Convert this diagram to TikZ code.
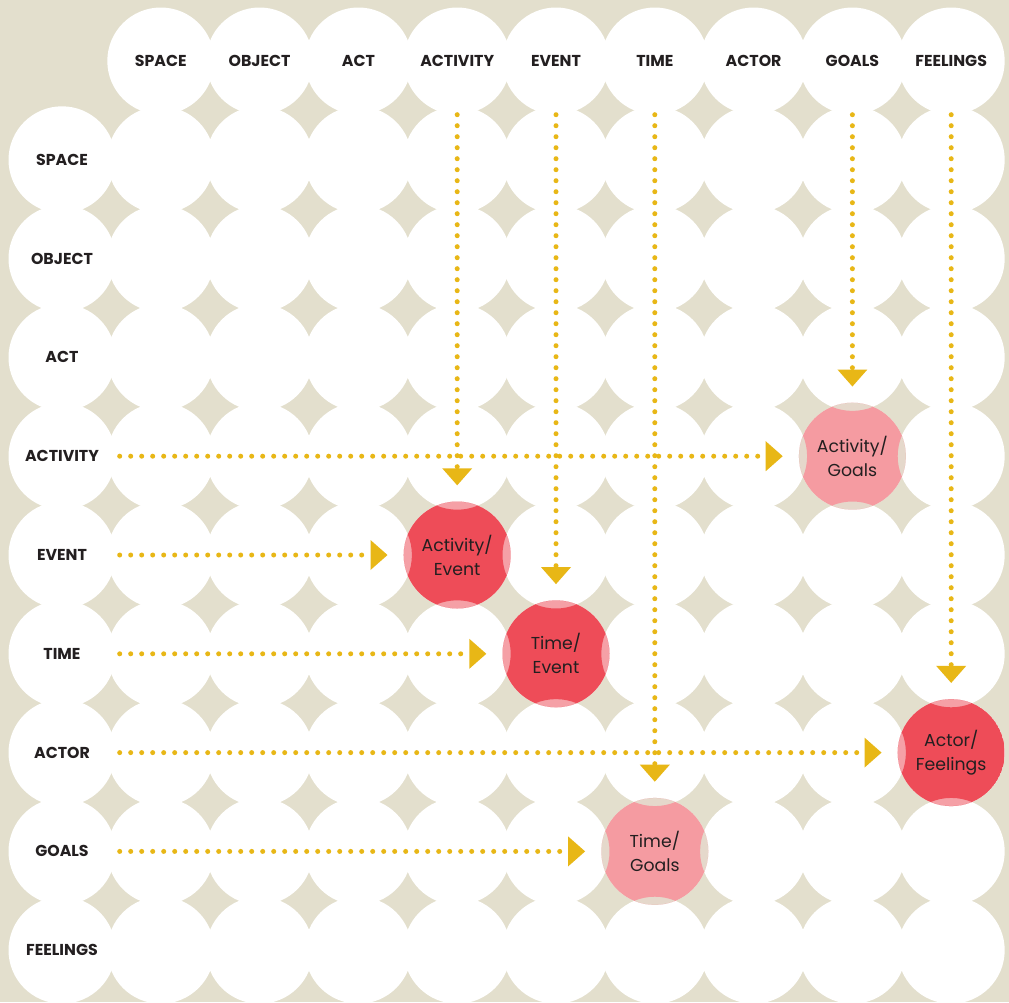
\documentclass[tikz,border=0pt]{standalone}
\usepackage{fontspec}
\setmainfont{Poppins}
\usetikzlibrary{arrows.meta,calc}

\definecolor{paper}{HTML}{E3DFCD}
\definecolor{ink}{HTML}{231F20}
\definecolor{dotyellow}{HTML}{E8B716}
\definecolor{hotred}{HTML}{EE4C58}
\definecolor{hotredlens}{HTML}{F5A0A6}
\definecolor{softpink}{HTML}{F59BA1}
\definecolor{softpinklens}{HTML}{E5D8CB}

\tikzset{
  cell/.style={circle, fill=white, minimum size=107pt, inner sep=0pt},
  hdr/.style={text=ink, font=\bfseries\fontsize{15.8}{18}\selectfont},
  spot/.style={circle, minimum size=107pt, inner sep=0pt, align=center,
               text=ink, font=\fontsize{17.3}{24}\selectfont},
  link/.style={dotyellow, line width=5pt, line cap=round,
               dash pattern=on 0pt off 11pt,
               -{Triangle[width=30pt,length=17pt,line width=0pt]},
               shorten >=16pt}
}

% coloured crossing: row, column, core colour, lens colour, neighbour cells, label
\newcommand\crossing[6]{%
  \begin{scope}
    \fill[#4] (g#1#2) circle (53.5pt);
    \clip (g#1#2) circle (53.5pt);
    \fill[#3, even odd rule] (g#1#2) circle (53.5pt)
      \foreach \n in {#5} { (g\n) circle (53.5pt) };
  \end{scope}
  \node[spot] (t#1#2) at (g#1#2) {#6};
}

\begin{document}
\begin{tikzpicture}[x=1pt, y=-1pt]
  \fill[paper] (0,0) rectangle (1009,1002);
  \useasboundingbox (0,0) rectangle (1009,1002);

  % lattice of white cells (corner left empty)
  \foreach \i in {0,...,9}{
    \foreach \j in {0,...,9}{
      \ifnum\numexpr\i+\j\relax>0
        \node[cell] (g\i\j) at ({62+98.8*\j},{61+98.8*\i}) {};
      \fi
    }
  }

  % row and column headings
  \foreach \t [count=\k] in {SPACE,OBJECT,ACT,ACTIVITY,EVENT,TIME,ACTOR,GOALS,FEELINGS}{
    \node[hdr] (col\k) at (g0\k) {\t};
    \node[hdr] (row\k) at (g\k0) {\t};
  }

  % highlighted crossings
  \crossing{4}{8}{softpink}{softpinklens}{38,58,47,49}{Activity/\\Goals}
  \crossing{5}{4}{hotred}{hotredlens}{44,64,53,55}{Activity/\\Event}
  \crossing{6}{5}{hotred}{hotredlens}{55,75,64,66}{Time/\\Event}
  \crossing{7}{9}{hotred}{hotredlens}{69,89,78}{Actor/\\Feelings}
  \crossing{8}{6}{softpink}{softpinklens}{76,96,85,87}{Time/\\Goals}

  % dotted links from the column headings
  \draw[link] (g04) -- (t54);
  \draw[link] (g05) -- (t65);
  \draw[link] (g06) -- (t86);
  \draw[link] (g08) -- (t48);
  \draw[link] (g09) -- (t79);

  % dotted links from the row headings
  \draw[link, shorten <=4pt] (g40) -- (t48);
  \draw[link, shorten <=4pt] (g50) -- (t54);
  \draw[link, shorten <=4pt] (g60) -- (t65);
  \draw[link, shorten <=4pt] (g70) -- (t79);
  \draw[link, shorten <=4pt] (g80) -- (t86);
\end{tikzpicture}
\end{document}
